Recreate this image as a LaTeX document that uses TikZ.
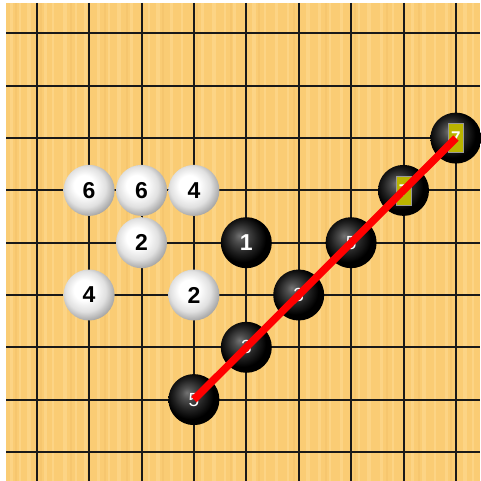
\documentclass[tikz,border=0pt]{standalone}
\usepackage{fontspec}
\setmainfont{Liberation Sans}
\definecolor{wood}{RGB}{250,204,116}
\definecolor{woodlight}{RGB}{252,212,133}
\definecolor{wooddark}{RGB}{246,198,110}
\definecolor{markyellow}{RGB}{186,180,0}
\pgfdeclareradialshading{bstoneshade}{\pgfpoint{-7bp}{7bp}}{color(0bp)=(black!55); color(6bp)=(black!70); color(15bp)=(black!87); color(23bp)=(black); color(50bp)=(black)}
\pgfdeclareradialshading{wstoneshade}{\pgfpoint{-6bp}{6bp}}{color(0bp)=(white); color(10bp)=(white); color(20bp)=(black!12); color(28bp)=(black!35); color(50bp)=(black!40)}
\begin{document}
\begin{tikzpicture}[x=1pt,y=-1pt,
  gridline/.style={line width=2pt, draw=black!90},
  wstone/.style={circle, minimum size=51pt, inner sep=0pt, shading=wstoneshade, text=black, font=\bfseries\fontsize{23}{23}\selectfont},
  bstone/.style={circle, minimum size=51pt, inner sep=0pt, shading=bstoneshade, text=white, font=\fontsize{19}{19}\selectfont},
  markbox/.style={fill=markyellow, draw=black!40, line width=0.4pt, minimum width=15pt, minimum height=29pt, inner sep=0pt, text=white, font=\bfseries\fontsize{17}{17}\selectfont},
  redline/.style={draw=red, line width=7.5pt}]
\useasboundingbox (0,0) rectangle (480,481);
\fill[white] (0,0) rectangle (480,481);
\fill[wood] (6,3) rectangle (480,481);
% wood grain stripes
\foreach \x/\w in {10/3,19/2,27/4,44/3,52/2,63/4,75/2,84/3,97/3,108/2,117/4,130/3,148/2,156/4,170/3,181/2,201/3,212/4,224/2,233/3,252/4,264/2,275/3,287/2,306/4,318/3,329/2,340/3,358/2,367/4,380/3,392/2,411/3,422/4,434/2,445/3,463/4,472/2}
  \fill[woodlight] (\x,3) rectangle (\x+\w,481);
\foreach \x/\w in {15/1.5,40/1.5,70/1.5,104/1.5,126/1.5,162/1.5,196/1.5,230/1.5,258/1.5,293/1.5,325/1.5,354/1.5,386/1.5,418/1.5,450/1.5}
  \fill[wooddark] (\x,3) rectangle (\x+\w,481);
% grid
\foreach \c in {36.7,89.1,141.5,193.9,246.3,298.7,351.1,403.5,455.9}
  \draw[gridline] (\c,3) -- (\c,481);
\foreach \r in {33.5,85.8,138.1,190.4,242.7,295.0,347.3,399.6,451.9}
  \draw[gridline] (6,\r) -- (480,\r);
% white stones
\node[wstone] (w1) at (89.1,190.4) {6};
\node[wstone] (w2) at (141.5,190.4) {6};
\node[wstone] (w3) at (193.9,190.4) {4};
\node[wstone] (w4) at (141.5,242.7) {2};
\node[wstone] (w5) at (89.1,295.0) {4};
\node[wstone] (w6) at (193.9,295.0) {2};
% black stones
\node[bstone] (b1) at (246.3,242.7) {\bfseries\fontsize{23}{23}\selectfont 1};
\node[bstone] (b2) at (298.7,295.0) {3};
\node[bstone] (b3) at (246.3,347.3) {3};
\node[bstone] (b4) at (193.9,399.6) {5};
\node[bstone] (b5) at (351.1,242.7) {5};
\node[bstone] (b6) at (403.5,190.4) {};
\node[bstone] (b7) at (455.9,138.1) {};
\node[markbox] (m6) at (b6.center) {7};
\node[markbox] (m7) at (b7.center) {7};
% connector
\draw[redline] (b4.center) -- (b7.center);
\end{tikzpicture}
\end{document}
